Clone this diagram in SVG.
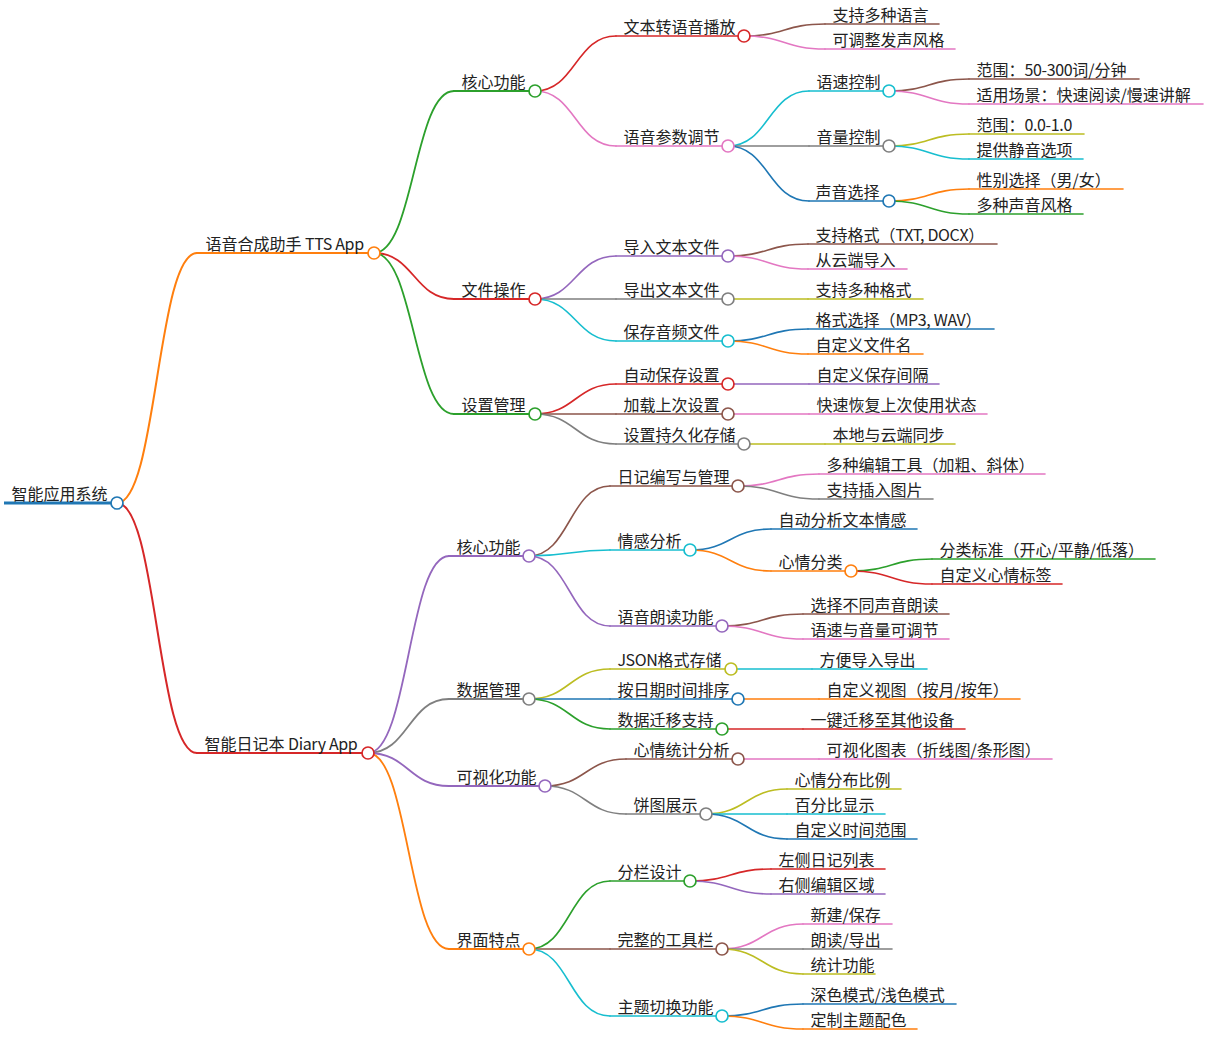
<svg xmlns="http://www.w3.org/2000/svg" width="1208" height="1060" viewBox="0 0 1208 1060">
<style>
text{font-family:"Noto Sans CJK SC","Noto Sans",sans-serif;font-size:16px;fill:#222;transform:translateX(-.6px)}
tspan{letter-spacing:-.35px}
path{fill:none;stroke-linecap:round}
circle{fill:#fff;stroke-width:1.7}
.l0{stroke-width:3;stroke-linecap:butt}.l1{stroke-width:2}.l2{stroke-width:1.8}.l3{stroke-width:1.6}
.blue{stroke:#1f77b4}.orange{stroke:#ff7f0e}.green{stroke:#2ca02c}.red{stroke:#d62728}.purple{stroke:#9467bd}
.brown{stroke:#8c564b}.pink{stroke:#e377c2}.gray{stroke:#7f7f7f}.olive{stroke:#bcbd22}.cyan{stroke:#17becf}
</style>
<rect width="1208" height="1060" fill="#fff"/>
<g id="connectors">
<path class="l1 orange" d="M117 503C157 503 157 253 197 253"/>
<path class="l1 red" d="M117 503C157 503 157 753 197 753"/>
<path class="l2 green" d="M374 253C414 253 414 91 454 91"/>
<path class="l2 red" d="M374 253C414 253 414 299 454 299"/>
<path class="l2 green" d="M374 253C414 253 414 414 454 414"/>
<path class="l3 red" d="M535 91C575.500 91 575.500 36 616 36"/>
<path class="l3 pink" d="M535 91C575.500 91 575.500 146 616 146"/>
<path class="l3 brown" d="M744 36C784.500 36 784.500 24 825 24"/>
<path class="l3 pink" d="M744 36C784.500 36 784.500 49 825 49"/>
<path class="l3 cyan" d="M728 146C768.500 146 768.500 91 809 91"/>
<path class="l3 gray" d="M728 146H809"/>
<path class="l3 blue" d="M728 146C768.500 146 768.500 201 809 201"/>
<path class="l3 brown" d="M889 91C929 91 929 79 969 79"/>
<path class="l3 pink" d="M889 91C929 91 929 104 969 104"/>
<path class="l3 olive" d="M889 146C929 146 929 134 969 134"/>
<path class="l3 cyan" d="M889 146C929 146 929 159 969 159"/>
<path class="l3 orange" d="M889 201C929 201 929 189 969 189"/>
<path class="l3 green" d="M889 201C929 201 929 214 969 214"/>
<path class="l3 purple" d="M535 299C575.500 299 575.500 256 616 256"/>
<path class="l3 gray" d="M535 299H616"/>
<path class="l3 cyan" d="M535 299C575.500 299 575.500 341 616 341"/>
<path class="l3 brown" d="M728 256C768 256 768 244 808 244"/>
<path class="l3 pink" d="M728 256C768 256 768 269 808 269"/>
<path class="l3 olive" d="M728 299H808"/>
<path class="l3 blue" d="M728 341C768 341 768 329 808 329"/>
<path class="l3 orange" d="M728 341C768 341 768 354 808 354"/>
<path class="l3 red" d="M535 414C575.500 414 575.500 384 616 384"/>
<path class="l3 brown" d="M535 414H616"/>
<path class="l3 gray" d="M535 414C575.500 414 575.500 444 616 444"/>
<path class="l3 purple" d="M728 384H809"/>
<path class="l3 pink" d="M728 414H809"/>
<path class="l3 olive" d="M744 444H825"/>
<path class="l2 purple" d="M368 753C408.500 753 408.500 556 449 556"/>
<path class="l2 gray" d="M368 753C408.500 753 408.500 699 449 699"/>
<path class="l2 purple" d="M368 753C408.500 753 408.500 786 449 786"/>
<path class="l2 orange" d="M368 753C408.500 753 408.500 949 449 949"/>
<path class="l3 brown" d="M529 556C569.500 556 569.500 486 610 486"/>
<path class="l3 cyan" d="M529 556C569.500 556 569.500 550 610 550"/>
<path class="l3 purple" d="M529 556C569.500 556 569.500 626 610 626"/>
<path class="l3 pink" d="M738 486C778.500 486 778.500 474 819 474"/>
<path class="l3 gray" d="M738 486C778.500 486 778.500 499 819 499"/>
<path class="l3 blue" d="M690 550C730.500 550 730.500 529 771 529"/>
<path class="l3 orange" d="M690 550C730.500 550 730.500 571 771 571"/>
<path class="l3 green" d="M851 571C891.500 571 891.500 559 932 559"/>
<path class="l3 red" d="M851 571C891.500 571 891.500 584 932 584"/>
<path class="l3 brown" d="M722 626C762.500 626 762.500 614 803 614"/>
<path class="l3 pink" d="M722 626C762.500 626 762.500 639 803 639"/>
<path class="l3 olive" d="M529 699C569.500 699 569.500 669 610 669"/>
<path class="l3 blue" d="M529 699H610"/>
<path class="l3 green" d="M529 699C569.500 699 569.500 729 610 729"/>
<path class="l3 cyan" d="M731 669H812"/>
<path class="l3 orange" d="M738 699H819"/>
<path class="l3 red" d="M722 729H803"/>
<path class="l3 brown" d="M545 786C585.500 786 585.500 759 626 759"/>
<path class="l3 gray" d="M545 786C585.500 786 585.500 814 626 814"/>
<path class="l3 pink" d="M738 759H819"/>
<path class="l3 olive" d="M706 814C746.500 814 746.500 789 787 789"/>
<path class="l3 cyan" d="M706 814H787"/>
<path class="l3 blue" d="M706 814C746.500 814 746.500 839 787 839"/>
<path class="l3 green" d="M529 949C569.500 949 569.500 881 610 881"/>
<path class="l3 brown" d="M529 949H610"/>
<path class="l3 cyan" d="M529 949C569.500 949 569.500 1016 610 1016"/>
<path class="l3 red" d="M690 881C730.500 881 730.500 869 771 869"/>
<path class="l3 purple" d="M690 881C730.500 881 730.500 894 771 894"/>
<path class="l3 pink" d="M722 949C762.500 949 762.500 924 803 924"/>
<path class="l3 gray" d="M722 949H803"/>
<path class="l3 olive" d="M722 949C762.500 949 762.500 974 803 974"/>
<path class="l3 blue" d="M722 1016C762.500 1016 762.500 1004 803 1004"/>
<path class="l3 orange" d="M722 1016C762.500 1016 762.500 1029 803 1029"/>
</g>
<g id="n-root"><path class="l0 blue" d="M4 503H117"/><circle class="blue" cx="117" cy="503" r="6"/><text x="12" y="500">智能应用系统</text></g>
<g id="n-tts"><path class="l1 orange" d="M197 253H374"/><circle class="orange" cx="374" cy="253" r="6"/><text x="206" y="250">语音合成助手 <tspan>TTS App</tspan></text></g>
<g id="n-t1"><path class="l2 green" d="M454 91H535"/><circle class="green" cx="535" cy="91" r="6"/><text x="462" y="88">核心功能</text></g>
<g id="n-t11"><path class="l3 red" d="M616 36H744"/><circle class="red" cx="744" cy="36" r="6"/><text x="624" y="33">文本转语音播放</text></g>
<g id="n-t111"><path class="l3 brown" d="M825 24H939"/><text x="833" y="21">支持多种语言</text></g>
<g id="n-t112"><path class="l3 pink" d="M825 49H955"/><text x="833" y="46">可调整发声风格</text></g>
<g id="n-t12"><path class="l3 pink" d="M616 146H728"/><circle class="pink" cx="728" cy="146" r="6"/><text x="624" y="143">语音参数调节</text></g>
<g id="n-t121"><path class="l3 cyan" d="M809 91H889"/><circle class="cyan" cx="889" cy="91" r="6"/><text x="817" y="88">语速控制</text></g>
<g id="n-t1211"><path class="l3 brown" d="M969 79H1139"/><text x="977" y="76">范围：<tspan>50-300</tspan>词/分钟</text></g>
<g id="n-t1212"><path class="l3 pink" d="M969 104H1203"/><text x="977" y="101">适用场景：快速阅读/慢速讲解</text></g>
<g id="n-t122"><path class="l3 gray" d="M809 146H889"/><circle class="gray" cx="889" cy="146" r="6"/><text x="817" y="143">音量控制</text></g>
<g id="n-t1221"><path class="l3 olive" d="M969 134H1084"/><text x="977" y="131">范围：<tspan>0.0-1.0</tspan></text></g>
<g id="n-t1222"><path class="l3 cyan" d="M969 159H1083"/><text x="977" y="156">提供静音选项</text></g>
<g id="n-t123"><path class="l3 blue" d="M809 201H889"/><circle class="blue" cx="889" cy="201" r="6"/><text x="816" y="198">声音选择</text></g>
<g id="n-t1231"><path class="l3 orange" d="M969 189H1123"/><text x="977" y="186">性别选择（男/女）</text></g>
<g id="n-t1232"><path class="l3 green" d="M969 214H1083"/><text x="977" y="211">多种声音风格</text></g>
<g id="n-t2"><path class="l2 red" d="M454 299H535"/><circle class="red" cx="535" cy="299" r="6"/><text x="462" y="296">文件操作</text></g>
<g id="n-t21"><path class="l3 purple" d="M616 256H728"/><circle class="purple" cx="728" cy="256" r="6"/><text x="624" y="253">导入文本文件</text></g>
<g id="n-t211"><path class="l3 brown" d="M808 244H997"/><text x="816" y="241">支持格式（<tspan>TXT, DOCX</tspan>）</text></g>
<g id="n-t212"><path class="l3 pink" d="M808 269H907"/><text x="816" y="266">从云端导入</text></g>
<g id="n-t22"><path class="l3 gray" d="M616 299H728"/><circle class="gray" cx="728" cy="299" r="6"/><text x="624" y="296">导出文本文件</text></g>
<g id="n-t221"><path class="l3 olive" d="M808 299H923"/><text x="816" y="296">支持多种格式</text></g>
<g id="n-t23"><path class="l3 cyan" d="M616 341H728"/><circle class="cyan" cx="728" cy="341" r="6"/><text x="624" y="338">保存音频文件</text></g>
<g id="n-t231"><path class="l3 blue" d="M808 329H994"/><text x="816" y="326">格式选择（<tspan>MP3, WAV</tspan>）</text></g>
<g id="n-t232"><path class="l3 orange" d="M808 354H923"/><text x="816" y="351">自定义文件名</text></g>
<g id="n-t3"><path class="l2 green" d="M454 414H535"/><circle class="green" cx="535" cy="414" r="6"/><text x="462" y="411">设置管理</text></g>
<g id="n-t31"><path class="l3 red" d="M616 384H728"/><circle class="red" cx="728" cy="384" r="6"/><text x="624" y="381">自动保存设置</text></g>
<g id="n-t311"><path class="l3 purple" d="M809 384H939"/><text x="817" y="381">自定义保存间隔</text></g>
<g id="n-t32"><path class="l3 brown" d="M616 414H728"/><circle class="brown" cx="728" cy="414" r="6"/><text x="624" y="411">加载上次设置</text></g>
<g id="n-t321"><path class="l3 pink" d="M809 414H987"/><text x="817" y="411">快速恢复上次使用状态</text></g>
<g id="n-t33"><path class="l3 gray" d="M616 444H744"/><circle class="gray" cx="744" cy="444" r="6"/><text x="624" y="441">设置持久化存储</text></g>
<g id="n-t331"><path class="l3 olive" d="M825 444H955"/><text x="833" y="441">本地与云端同步</text></g>
<g id="n-diary"><path class="l1 red" d="M197 753H368"/><circle class="red" cx="368" cy="753" r="6"/><text x="205" y="750">智能日记本 <tspan>Diary App</tspan></text></g>
<g id="n-d1"><path class="l2 purple" d="M449 556H529"/><circle class="purple" cx="529" cy="556" r="6"/><text x="457" y="553">核心功能</text></g>
<g id="n-d11"><path class="l3 brown" d="M610 486H738"/><circle class="brown" cx="738" cy="486" r="6"/><text x="618" y="483">日记编写与管理</text></g>
<g id="n-d111"><path class="l3 pink" d="M819 474H1045"/><text x="827" y="471">多种编辑工具（加粗、斜体）</text></g>
<g id="n-d112"><path class="l3 gray" d="M819 499H933"/><text x="827" y="496">支持插入图片</text></g>
<g id="n-d12"><path class="l3 cyan" d="M610 550H690"/><circle class="cyan" cx="690" cy="550" r="6"/><text x="618" y="547">情感分析</text></g>
<g id="n-d121"><path class="l3 blue" d="M771 529H917"/><text x="779" y="526">自动分析文本情感</text></g>
<g id="n-d122"><path class="l3 orange" d="M771 571H851"/><circle class="orange" cx="851" cy="571" r="6"/><text x="779" y="568">心情分类</text></g>
<g id="n-d1221"><path class="l3 green" d="M932 559H1155"/><text x="940" y="556">分类标准（开心/平静/低落）</text></g>
<g id="n-d1222"><path class="l3 red" d="M932 584H1062"/><text x="940" y="581">自定义心情标签</text></g>
<g id="n-d13"><path class="l3 purple" d="M610 626H722"/><circle class="purple" cx="722" cy="626" r="6"/><text x="618" y="623">语音朗读功能</text></g>
<g id="n-d131"><path class="l3 brown" d="M803 614H949"/><text x="811" y="611">选择不同声音朗读</text></g>
<g id="n-d132"><path class="l3 pink" d="M803 639H949"/><text x="811" y="636">语速与音量可调节</text></g>
<g id="n-d2"><path class="l2 gray" d="M449 699H529"/><circle class="gray" cx="529" cy="699" r="6"/><text x="457" y="696">数据管理</text></g>
<g id="n-d21"><path class="l3 olive" d="M610 669H731"/><circle class="olive" cx="731" cy="669" r="6"/><text x="618" y="666"><tspan>JSON</tspan>格式存储</text></g>
<g id="n-d211"><path class="l3 cyan" d="M812 669H927"/><text x="820" y="666">方便导入导出</text></g>
<g id="n-d22"><path class="l3 blue" d="M610 699H738"/><circle class="blue" cx="738" cy="699" r="6"/><text x="618" y="696">按日期时间排序</text></g>
<g id="n-d221"><path class="l3 orange" d="M819 699H1020"/><text x="827" y="696">自定义视图（按月/按年）</text></g>
<g id="n-d23"><path class="l3 green" d="M610 729H722"/><circle class="green" cx="722" cy="729" r="6"/><text x="618" y="726">数据迁移支持</text></g>
<g id="n-d231"><path class="l3 red" d="M803 729H965"/><text x="811" y="726">一键迁移至其他设备</text></g>
<g id="n-d3"><path class="l2 purple" d="M449 786H545"/><circle class="purple" cx="545" cy="786" r="6"/><text x="457" y="783">可视化功能</text></g>
<g id="n-d31"><path class="l3 brown" d="M626 759H738"/><circle class="brown" cx="738" cy="759" r="6"/><text x="634" y="756">心情统计分析</text></g>
<g id="n-d311"><path class="l3 pink" d="M819 759H1052"/><text x="827" y="756">可视化图表（折线图/条形图）</text></g>
<g id="n-d32"><path class="l3 gray" d="M626 814H706"/><circle class="gray" cx="706" cy="814" r="6"/><text x="634" y="811">饼图展示</text></g>
<g id="n-d321"><path class="l3 olive" d="M787 789H901"/><text x="795" y="786">心情分布比例</text></g>
<g id="n-d322"><path class="l3 cyan" d="M787 814H885"/><text x="795" y="811">百分比显示</text></g>
<g id="n-d323"><path class="l3 blue" d="M787 839H917"/><text x="795" y="836">自定义时间范围</text></g>
<g id="n-d4"><path class="l2 orange" d="M449 949H529"/><circle class="orange" cx="529" cy="949" r="6"/><text x="457" y="946">界面特点</text></g>
<g id="n-d41"><path class="l3 green" d="M610 881H690"/><circle class="green" cx="690" cy="881" r="6"/><text x="618" y="878">分栏设计</text></g>
<g id="n-d411"><path class="l3 red" d="M771 869H885"/><text x="779" y="866">左侧日记列表</text></g>
<g id="n-d412"><path class="l3 purple" d="M771 894H885"/><text x="779" y="891">右侧编辑区域</text></g>
<g id="n-d42"><path class="l3 brown" d="M610 949H722"/><circle class="brown" cx="722" cy="949" r="6"/><text x="618" y="946">完整的工具栏</text></g>
<g id="n-d421"><path class="l3 pink" d="M803 924H892"/><text x="811" y="921">新建/保存</text></g>
<g id="n-d422"><path class="l3 gray" d="M803 949H892"/><text x="811" y="946">朗读/导出</text></g>
<g id="n-d423"><path class="l3 olive" d="M803 974H875"/><text x="811" y="971">统计功能</text></g>
<g id="n-d43"><path class="l3 cyan" d="M610 1016H722"/><circle class="cyan" cx="722" cy="1016" r="6"/><text x="618" y="1013">主题切换功能</text></g>
<g id="n-d431"><path class="l3 blue" d="M803 1004H956"/><text x="811" y="1001">深色模式/浅色模式</text></g>
<g id="n-d432"><path class="l3 orange" d="M803 1029H917"/><text x="811" y="1026">定制主题配色</text></g>
</svg>
